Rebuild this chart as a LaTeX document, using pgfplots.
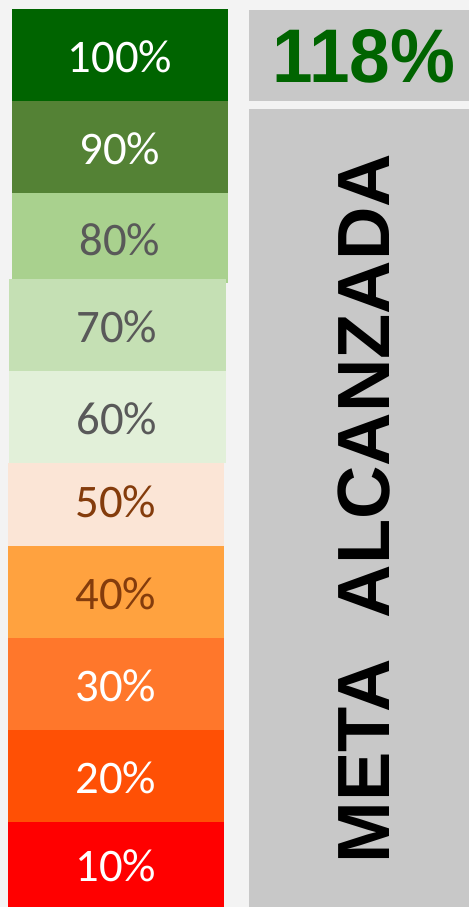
\documentclass[border=0pt]{standalone}
\usepackage{pgfplots}
\pgfplotsset{compat=1.18}
\usepackage{fontspec}
\setmainfont{Carlito}
\newfontfamily\arial{Liberation Sans}
\definecolor{bg}{HTML}{F3F3F3}
\definecolor{panel}{HTML}{C8C8C8}
\definecolor{c100}{HTML}{006400}
\definecolor{c90}{HTML}{548235}
\definecolor{c80}{HTML}{A9D18E}
\definecolor{c70}{HTML}{C5E0B4}
\definecolor{c60}{HTML}{E2F0D9}
\definecolor{c50}{HTML}{FBE5D6}
\definecolor{c40}{HTML}{FFA23F}
\definecolor{c30}{HTML}{FF772B}
\definecolor{c20}{HTML}{FF5005}
\definecolor{c10}{HTML}{FF0000}
\definecolor{tgray}{HTML}{595959}
\definecolor{tbrown}{HTML}{843C0C}
\tikzset{lbl/.style={font=\fontsize{35}{40}\selectfont, inner sep=0pt}}
\begin{document}
\begin{tikzpicture}
\begin{axis}[
  scale only axis, width=351.75pt, height=680.25pt,
  xmin=0, xmax=469, ymin=0, ymax=907, y dir=reverse,
  hide axis, clip=false,
]
% background
\addplot[fill=bg, draw=none] coordinates {(0,0) (469,0) (469,907) (0,907)} --cycle;
% right panels
\addplot[fill=panel, draw=none] coordinates {(249,10) (469,10) (469,101) (249,101)} --cycle;
\addplot[fill=panel, draw=none] coordinates {(249,109) (469,109) (469,907) (249,907)} --cycle;
% level bars
\addplot[fill=c100, draw=none] coordinates {(12,9) (228,9) (228,101) (12,101)} --cycle;
\addplot[fill=c90, draw=none] coordinates {(12,101) (228,101) (228,193) (12,193)} --cycle;
\addplot[fill=c80, draw=none] coordinates {(12,193) (228,193) (228,283) (12,283)} --cycle;
\addplot[fill=c70, draw=none] coordinates {(9,279) (226,279) (226,371) (9,371)} --cycle;
\addplot[fill=c60, draw=none] coordinates {(9,371) (226,371) (226,463) (9,463)} --cycle;
\addplot[fill=c50, draw=none] coordinates {(8,463) (224,463) (224,546) (8,546)} --cycle;
\addplot[fill=c40, draw=none] coordinates {(8,546) (224,546) (224,638) (8,638)} --cycle;
\addplot[fill=c30, draw=none] coordinates {(8,638) (224,638) (224,730) (8,730)} --cycle;
\addplot[fill=c20, draw=none] coordinates {(8,730) (224,730) (224,822) (8,822)} --cycle;
\addplot[fill=c10, draw=none] coordinates {(8,822) (224,822) (224,907) (8,907)} --cycle;
% labels
\node[lbl, text=white] at (axis cs:120,57) {100\%};
\node[lbl, text=white] at (axis cs:120,149) {90\%};
\node[lbl, text=tgray] at (axis cs:120,240) {80\%};
\node[lbl, text=tgray] at (axis cs:117,327) {70\%};
\node[lbl, text=tgray] at (axis cs:117,419) {60\%};
\node[lbl, text=tbrown] at (axis cs:116,502) {50\%};
\node[lbl, text=tbrown] at (axis cs:116,594) {40\%};
\node[lbl, text=white] at (axis cs:116,686) {30\%};
\node[lbl, text=white] at (axis cs:116,778) {20\%};
\node[lbl, text=white] at (axis cs:116,866) {10\%};
% right panel text
\node[inner sep=0pt, text=c100, font=\arial\bfseries\fontsize{57}{60}\selectfont] at (axis cs:364,56.5) {\scalebox{0.96}[1]{118\%}};
\node[inner sep=0pt, rotate=90, font=\arial\bfseries\fontsize{55.5}{60}\selectfont] at (axis cs:364.5,508.5) {META\ \ ALCANZADA};
\end{axis}
\end{tikzpicture}
\end{document}
